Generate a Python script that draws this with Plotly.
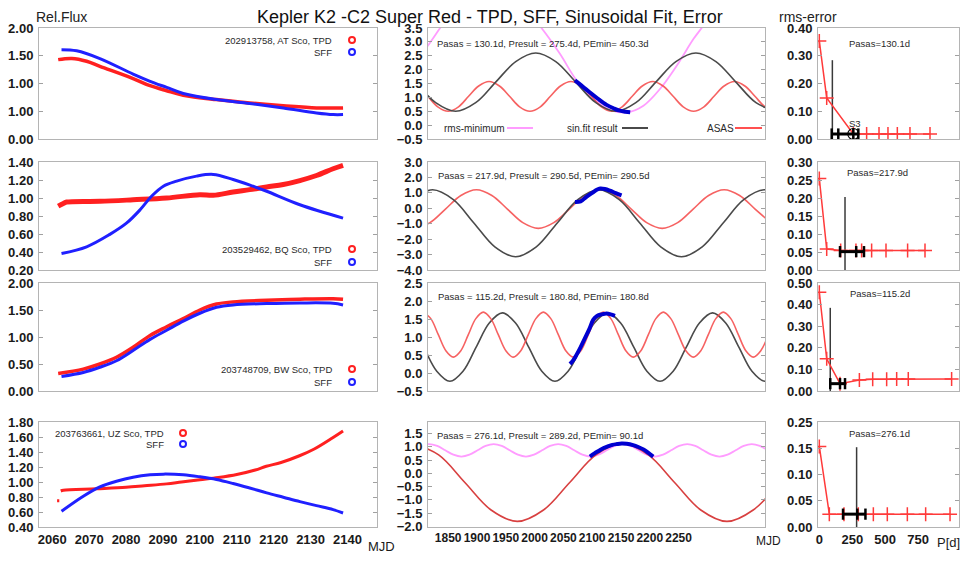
import plotly.graph_objects as go

# the page body adds an 8 px margin on every side; the figure is sized so the
# page does not overflow, and every reference pixel position is shifted by OFF
OFF = 8
W, H = 971 - 2 * OFF, 562 - 2 * OFF
FONT = "Liberation Sans, Arial, Helvetica, sans-serif"

# ---------------- left column: Rel.Flux vs MJD (TPD red, SFF blue) ----------------
AT_TPD_X = [2061.6, 2065.3, 2069.3, 2072.9, 2081.9, 2086.5, 2091.0, 2095.5, 2104.5, 2113.5, 2122.6, 2131.6, 2138.8]
AT_TPD_Y = [1.43, 1.45, 1.40, 1.31, 1.09, 0.96, 0.87, 0.79, 0.71, 0.65, 0.60, 0.56, 0.56]
AT_SFF_X = [2062.5, 2066.6, 2072.9, 2081.9, 2086.5, 2091.0, 2095.5, 2104.5, 2113.5, 2122.6, 2131.6, 2136.1, 2138.8]
AT_SFF_Y = [1.61, 1.59, 1.45, 1.17, 1.04, 0.93, 0.82, 0.71, 0.64, 0.56, 0.47, 0.44, 0.44]

BQ_TPD_X = [2061.6, 2063.0, 2063.9, 2072.9, 2081.9, 2091.0, 2100.0, 2103.6, 2109.0, 2113.5, 2118.1, 2122.6, 2127.1, 2131.6, 2136.1, 2138.8]
BQ_TPD_Y = [0.91, 0.94, 0.955, 0.963, 0.98, 1.0, 1.037, 1.03, 1.067, 1.093, 1.123, 1.15, 1.194, 1.25, 1.325, 1.363]
BQ_SFF_X = [2062.5, 2069.3, 2075.6, 2080.1, 2083.8, 2086.9, 2090.1, 2093.7, 2099.1, 2103.6, 2109.0, 2114.4, 2118.1, 2127.1, 2138.8]
BQ_SFF_Y = [0.383, 0.458, 0.596, 0.72, 0.869, 1.019, 1.131, 1.187, 1.243, 1.262, 1.206, 1.131, 1.075, 0.925, 0.776]

BW_TPD_X = [2061.6, 2068.4, 2072.9, 2077.4, 2081.9, 2086.5, 2091.0, 2095.5, 2100.0, 2104.5, 2109.0, 2118.1, 2127.1, 2136.1, 2138.8]
BW_TPD_Y = [0.325, 0.406, 0.5, 0.625, 0.81, 1.03, 1.19, 1.34, 1.5, 1.61, 1.65, 1.68, 1.70, 1.71, 1.70]
BW_SFF_X = [2062.5, 2068.4, 2072.9, 2077.4, 2081.9, 2086.5, 2091.0, 2095.5, 2100.0, 2104.5, 2109.0, 2118.1, 2127.1, 2136.1, 2138.8]
BW_SFF_Y = [0.27, 0.344, 0.44, 0.56, 0.75, 0.956, 1.125, 1.294, 1.44, 1.55, 1.594, 1.619, 1.631, 1.625, 1.594]

UZ_TPD_X = [2061.3, 2061.9, None, 2062.3, 2063.0, 2072.0, 2080.0, 2085.0, 2091.0, 2095.0, 2100.0, 2105.0, 2110.0,
            2115.0, 2118.0, 2122.0, 2127.0, 2131.0, 2136.0, 2138.8]
UZ_TPD_Y = [0.75, 0.75, None, 0.88, 0.89, 0.91, 0.93, 0.95, 0.975, 1.0, 1.03, 1.06, 1.10,
            1.16, 1.21, 1.26, 1.35, 1.44, 1.59, 1.68]
UZ_SFF_X = [2062.5, 2068.4, 2072.9, 2077.4, 2081.9, 2086.5, 2090.1, 2095.5, 2100.0, 2104.5, 2109.0, 2113.5,
            2118.1, 2122.6, 2127.1, 2131.6, 2136.1, 2138.8]
UZ_SFF_Y = [0.61, 0.81, 0.935, 1.01, 1.064, 1.096, 1.105, 1.096, 1.069, 1.033, 0.98, 0.92,
            0.855, 0.797, 0.739, 0.685, 0.632, 0.587]

# ---------------- middle column: sinusoidal fits vs MJD ----------------
AT_FIT_X = [1793.5, 1828.3, 1863.0, 1897.8, 1932.5, 1967.3, 2002.0, 2036.8, 2071.5, 2106.3, 2141.0, 2175.8, 2210.5,
            2245.3, 2280.0, 2314.8, 2349.5, 2384.3, 2419.0]
AT_FIT_Y = [1.55, 0.81, 0.50, 0.81, 1.55, 2.29, 2.60, 2.29, 1.55, 0.81, 0.50, 0.81, 1.55,
            2.29, 2.60, 2.29, 1.55, 0.81, 0.50]
AT_ASAS_X = [1779, 1797, 1814.5, 1832, 1850, 1868, 1885.5, 1903, 1921, 1939, 1956.5, 1974, 1992, 2010, 2027.5, 2045,
             2063, 2081, 2098.5, 2116, 2134, 2152, 2169.5, 2187, 2205, 2223, 2240.5, 2258, 2276, 2294, 2311.5, 2329,
             2347, 2365, 2382.5, 2400, 2418]
AT_ASAS_Y = [1.57, 1.41, 1.04, 0.66, 0.50, 0.66, 1.04, 1.41, 1.57, 1.41, 1.04, 0.66, 0.50, 0.66, 1.04, 1.41,
             1.57, 1.41, 1.04, 0.66, 0.50, 0.66, 1.04, 1.41, 1.57, 1.41, 1.04, 0.66, 0.50, 0.66, 1.04, 1.41,
             1.57, 1.41, 1.04, 0.66, 0.50]
AT_RMS_X = [1790, 1815, 1836, 1850, None, 2000, 2012, 2044, 2073, 2102, 2131, 2160, 2189, 2218, 2247, 2276, 2290, 2300]
AT_RMS_Y = [2.2, 2.87, 3.5, 3.9, None, 3.8, 3.5, 2.57, 1.61, 0.95, 0.55, 0.46, 0.7, 1.31, 2.15, 3.11, 3.5, 3.8]
AT_DATA_X = [2070, 2080, 2090, 2099, 2110, 2125, 2138, 2148, 2158, 2166]
AT_DATA_Y = [1.61, 1.45, 1.28, 1.13, 0.95, 0.73, 0.60, 0.52, 0.48, 0.46]

BQ_FIT_X = [1787, 1823, 1859, 1895, 1931, 1967, 2003, 2039, 2075, 2111, 2147, 2183, 2219, 2255, 2291, 2327, 2363, 2399, 2435]
BQ_FIT_Y = [0.56, 1.2, 0.56, -0.97, -2.5, -3.14, -2.5, -0.97, 0.56, 1.2, 0.56, -0.97, -2.5, -3.14, -2.5, -0.97, 0.56, 1.2, 0.56]
BQ_ASAS_X = [1791.5, 1818.4, 1845.3, 1872.1, 1899, 1925.9, 1952.8, 1979.6, 2006.5, 2033.4, 2060.3, 2087.1, 2114,
             2140.9, 2167.8, 2194.6, 2221.5, 2248.4, 2275.3, 2302.1, 2329, 2355.9, 2382.8, 2409.6]
BQ_ASAS_Y = [-1.3, -0.93, -0.05, 0.83, 1.2, 0.83, -0.05, -0.93, -1.3, -0.93, -0.05, 0.83, 1.2,
             0.83, -0.05, -0.93, -1.3, -0.93, -0.05, 0.83, 1.2, 0.83, -0.05, -0.93]
BQ_DATA_X = [2070, 2080, 2090, 2100, 2108, 2114, 2122, 2131, 2141, 2151]
BQ_DATA_Y = [0.41, 0.45, 0.74, 1.0, 1.2, 1.28, 1.25, 1.14, 0.98, 0.84]

BW_FIT_X = [1784.6, 1807.4, 1830.2, 1853, 1875.8, 1898.6, 1921.4, 1944.2, 1967, 1989.8, 2012.6, 2035.4, 2058.2,
            2081, 2103.8, 2126.6, 2149.4, 2172.2, 2195, 2217.8, 2240.6, 2263.4, 2286.2, 2309, 2331.8, 2354.6,
            2377.4, 2400.2, 2423]
BW_FIT_Y = [1.39, 0.72, 0.05, -0.23, 0.05, 0.72, 1.39, 1.67, 1.39, 0.72, 0.05, -0.23, 0.05,
            0.72, 1.39, 1.67, 1.39, 0.72, 0.05, -0.23, 0.05, 0.72, 1.39, 1.67, 1.39, 0.72,
            0.05, -0.23, 0.05]
BW_ASAS_X = [1806.9, 1819.9, 1832.9, 1846, 1859, 1872, 1885, 1898, 1911, 1924, 1937, 1950.1, 1963.1, 1976.1,
             1989.1, 2002.2, 2015.2, 2028.2, 2041.2, 2054.2, 2067.3, 2080.3, 2093.3, 2106.3, 2119.4, 2132.4,
             2145.4, 2158.4, 2171.4, 2184.5, 2197.5, 2210.5, 2223.5, 2236.5, 2249.6, 2262.6, 2275.6, 2288.6,
             2301.6, 2314.6, 2327.6, 2340.7, 2353.7, 2366.7, 2379.7, 2392.7, 2405.8]
BW_ASAS_Y = [1.69, 1.51, 1.065, 0.62, 0.44, 0.62, 1.065, 1.51, 1.69, 1.51, 1.065, 0.62, 0.44, 0.62,
             1.065, 1.51, 1.69, 1.51, 1.065, 0.62, 0.44, 0.62, 1.065, 1.51, 1.69, 1.51,
             1.065, 0.62, 0.44, 0.62, 1.065, 1.51, 1.69, 1.51, 1.065, 0.62, 0.44, 0.62,
             1.065, 1.51, 1.69, 1.51, 1.065, 0.62, 0.44, 0.62, 1.065]
BW_DATA_X = [2061.5, 2067, 2073, 2080, 2087.5, 2095, 2102, 2108, 2114, 2120, 2125, 2132, 2139.6]
BW_DATA_Y = [0.25, 0.35, 0.51, 0.72, 0.97, 1.22, 1.48, 1.58, 1.62, 1.64, 1.65, 1.63, 1.59]

UZ_ASAS_X = [1788, 1833.5, 1879, 1924.5, 1970, 2015.5, 2061, 2106.5, 2152, 2197.5, 2243, 2288.5, 2334, 2379.5, 2425]
UZ_ASAS_Y = [1.12, 0.69, -0.345, -1.38, -1.81, -1.38, -0.345, 0.69, 1.12, 0.69, -0.345, -1.38, -1.81, -1.38, -0.345]
UZ_RMS_X = [1803, 1817, 1831, 1845, 1859, 1873, 1887, 1901, 1915, 1929, 1943, 1957, 1971, 1985, 1999, 2013, 2027,
            2041, 2055, 2069, 2083, 2097, 2111, 2125, 2139, 2153, 2167, 2181, 2195, 2209, 2223, 2237, 2251, 2265,
            2279, 2293, 2307, 2321, 2335, 2349, 2363, 2377, 2391, 2405]
UZ_RMS_Y = [1.03, 1.1, 1.03, 0.865, 0.70, 0.63, 0.70, 0.865, 1.03, 1.1, 1.03, 0.865, 0.70, 0.63, 0.70, 0.865, 1.03,
            1.1, 1.03, 0.865, 0.70, 0.63, 0.70, 0.865, 1.03, 1.1, 1.03, 0.865, 0.70, 0.63, 0.70, 0.865, 1.03, 1.1,
            1.03, 0.865, 0.70, 0.63, 0.70, 0.865, 1.03, 1.1, 1.03, 0.865]
UZ_DATA_X = [2096, 2104, 2112, 2120, 2128, 2135, 2143, 2151, 2160, 2171, 2180, 2189, 2197, 2206]
UZ_DATA_Y = [0.63, 0.75, 0.85, 0.95, 1.02, 1.07, 1.10, 1.12, 1.11, 1.06, 0.99, 0.90, 0.78, 0.63]

# ---------------- right column: rms-error vs trial period P[d] ----------------
AT_ERR_P = [0, 56, 258, 359, 453, 521, 592, 688, 840]
AT_ERR = [0.353, 0.148, 0.018, 0.018, 0.018, 0.018, 0.018, 0.018, 0.018]
AT_BAR_P = [94, 144, 258, 296]
AT_BAR_Y = [0.018, 0.018, 0.018, 0.018]
AT_PASAS = [99, 99]
AT_PASAS_Y = [0, 0.284]
AT_BEST_P = [258]
AT_BEST_Y = [0.018]

BQ_ERR_P = [0, 56, 162, 278, 321, 397, 506, 670, 802]
BQ_ERR = [0.254, 0.058, 0.054, 0.054, 0.054, 0.054, 0.054, 0.054, 0.054]
BQ_BAR_P = [157, 280, 339]
BQ_BAR_Y = [0.051, 0.051, 0.051]
BQ_PASAS = [195, 195]
BQ_PASAS_Y = [0, 0.203]

BW_ERR_P = [0, 56, 157, 304, 405, 511, 587, 675, 1004]
BW_ERR = [0.457, 0.149, 0.034, 0.051, 0.054, 0.054, 0.055, 0.055, 0.055]
BW_BAR_P = [83, 157, 195]
BW_BAR_Y = [0.034, 0.034, 0.034]
BW_PASAS = [83, 83]
BW_PASAS_Y = [0, 0.385]

UZ_ERR_P = [0, 76, 187, 296, 410, 516, 668, 807, 992]
UZ_ERR = [0.1535, 0.0245, 0.0245, 0.0245, 0.0245, 0.0245, 0.0245, 0.0245, 0.0245]
UZ_BAR_P = [180, 288, 350]
UZ_BAR_Y = [0.0245, 0.0245, 0.0245]
UZ_PASAS = [283, 283]
UZ_PASAS_Y = [0, 0.152]

# ---------------- axes ----------------
FLUX_TICKS = [[0, 0.5, 1.0, 1.5, 2.0], [0.2, 0.4, 0.6, 0.8, 1.0, 1.2, 1.4], [0, 0.5, 1.0, 1.5, 2.0],
              [0.4, 0.6, 0.8, 1.0, 1.2, 1.4, 1.6, 1.8]]
FLUX_TEXT_AT = ["0.00", "1.00", "1.00", "1.50", "2.00"]
FIT_TICKS = [[-0.5, 0, 0.5, 1, 1.5, 2, 2.5, 3, 3.5], [-4, -3, -2, -1, 0, 1, 2, 3], [-0.5, 0, 0.5, 1, 1.5, 2, 2.5],
             [-2, -1.5, -1, -0.5, 0, 0.5, 1, 1.5]]
ERR_TICKS = [[0, 0.1, 0.2, 0.3, 0.4], [0, 0.05, 0.1, 0.15, 0.2, 0.25, 0.3], [0, 0.1, 0.2, 0.3, 0.4, 0.5],
             [0, 0.05, 0.1, 0.15, 0.2]]
ERR_TEXT_UZ = ["0.00", "0.05", "0.10", "0.15", "0.25"]
MJD_TICKS = [2060, 2070, 2080, 2090, 2100, 2110, 2120, 2130, 2140]
FIT_MJD_TICKS = [1850, 1900, 1950, 2000, 2050, 2100, 2150, 2200, 2250]
P_TICKS = [0, 250, 500, 750]

COL_PX = [(39, 377), (428, 765), (818, 959)]
ROW_PX = [(28, 139), (162, 270), (283, 391), (422, 527)]
X_RANGES = [[2056.4, 2148.0], [1815.0, 2400.0], [-10.0, 1060.0]]
Y_RANGES = [
    [[0, 2], [-0.5, 3.5], [0, 0.4]],
    [[0.2, 1.4], [-4, 3], [0, 0.3]],
    [[0, 2], [-0.5, 2.5], [0, 0.5]],
    [[0.4, 1.8], [-2.02, 1.93], [0, 0.2]],
]

RED = "#ff2020"
BLUE = "#2020ff"
ASAS_RED = "rgba(245,70,70,0.85)"
FIT_GRAY = "#4a4a4a"
PINK = "#ff9cff"


def px(x):
    return (x - OFF) / W


def py(y):
    return 1 - (y - OFF) / H


def ax(letter, i):
    return letter if i == 1 else f"{letter}{i}"


def line(fig, i, x, y, color, width, shape="spline"):
    fig.add_trace(go.Scatter(x=x, y=y, mode="lines", line={"color": color, "width": width, "shape": shape},
                             xaxis=ax("x", i), yaxis=ax("y", i), showlegend=False, hoverinfo="skip"))


def err_panel(fig, i, p, e, bar_p, bar_y, pas_p, pas_y):
    fig.add_trace(go.Scatter(x=pas_p, y=pas_y, mode="lines", line={"color": "#3a3a3a", "width": 1.5},
                             xaxis=ax("x", i), yaxis=ax("y", i), showlegend=False, hoverinfo="skip"))
    fig.add_trace(go.Scatter(x=p, y=e, mode="lines+markers", line={"color": "#ff3a3a", "width": 1.5},
                             marker={"symbol": "cross-thin", "size": 10, "line": {"color": "#ff3a3a", "width": 1.5}},
                             xaxis=ax("x", i), yaxis=ax("y", i), showlegend=False, hoverinfo="skip"))
    fig.add_trace(go.Scatter(x=bar_p, y=bar_y, mode="lines+markers", line={"color": "black", "width": 3},
                             marker={"symbol": "line-ns", "size": 8, "line": {"color": "black", "width": 2.5}},
                             xaxis=ax("x", i), yaxis=ax("y", i), showlegend=False, hoverinfo="skip"))


fig = go.Figure()

# left column
line(fig, 1, AT_TPD_X, AT_TPD_Y, RED, 3.5)
line(fig, 1, AT_SFF_X, AT_SFF_Y, BLUE, 3)
line(fig, 4, BQ_TPD_X, BQ_TPD_Y, RED, 5)
line(fig, 4, BQ_SFF_X, BQ_SFF_Y, BLUE, 3)
line(fig, 7, BW_TPD_X, BW_TPD_Y, RED, 3.5)
line(fig, 7, BW_SFF_X, BW_SFF_Y, BLUE, 3)
line(fig, 10, UZ_TPD_X, UZ_TPD_Y, RED, 3)
line(fig, 10, UZ_SFF_X, UZ_SFF_Y, BLUE, 3)

# middle column
line(fig, 2, AT_RMS_X, AT_RMS_Y, PINK, 1.8)
line(fig, 2, AT_ASAS_X, AT_ASAS_Y, ASAS_RED, 1.6)
line(fig, 2, AT_FIT_X, AT_FIT_Y, FIT_GRAY, 1.6)
line(fig, 2, AT_DATA_X, AT_DATA_Y, "#0000d0", 4)
line(fig, 5, BQ_ASAS_X, BQ_ASAS_Y, ASAS_RED, 1.6)
line(fig, 5, BQ_FIT_X, BQ_FIT_Y, FIT_GRAY, 1.6)
line(fig, 5, BQ_DATA_X, BQ_DATA_Y, "#0000d0", 4)
line(fig, 8, BW_FIT_X, BW_FIT_Y, FIT_GRAY, 1.6)
line(fig, 8, BW_ASAS_X, BW_ASAS_Y, ASAS_RED, 1.6)
line(fig, 8, BW_DATA_X, BW_DATA_Y, "#0000d0", 4)
line(fig, 11, UZ_RMS_X, UZ_RMS_Y, PINK, 1.8)
line(fig, 11, UZ_ASAS_X, UZ_ASAS_Y, "#d84040", 1.6)
line(fig, 11, UZ_DATA_X, UZ_DATA_Y, "#0000d0", 4)

# right column
err_panel(fig, 3, AT_ERR_P, AT_ERR, AT_BAR_P, AT_BAR_Y, AT_PASAS, AT_PASAS_Y)
fig.add_trace(go.Scatter(x=AT_BEST_P, y=AT_BEST_Y, mode="markers",
                         marker={"symbol": "circle-open-dot", "size": 11, "color": "black", "line": {"width": 1.2}},
                         xaxis="x3", yaxis="y3", showlegend=False, hoverinfo="skip"))
err_panel(fig, 6, BQ_ERR_P, BQ_ERR, BQ_BAR_P, BQ_BAR_Y, BQ_PASAS, BQ_PASAS_Y)
err_panel(fig, 9, BW_ERR_P, BW_ERR, BW_BAR_P, BW_BAR_Y, BW_PASAS, BW_PASAS_Y)
err_panel(fig, 12, UZ_ERR_P, UZ_ERR, UZ_BAR_P, UZ_BAR_Y, UZ_PASAS, UZ_PASAS_Y)

y_ticks = [FLUX_TICKS, FIT_TICKS, ERR_TICKS]
y_formats = [".2f", ".1f", ".2f"]
x_ticks = [MJD_TICKS, FIT_MJD_TICKS, P_TICKS]
x_font_size = [13, 12, 13]

layout_axes = {}
for r in range(4):
    for c in range(3):
        i = r * 3 + c + 1
        xa = {
            "domain": [px(COL_PX[c][0]), px(COL_PX[c][1])],
            "range": X_RANGES[c],
            "anchor": ax("y", i),
            "automargin": False,
            "showline": True, "mirror": True, "linecolor": "#b4b4b4", "linewidth": 1,
            "showgrid": False, "zeroline": False, "ticks": "", "tickangle": 0,
            "tickfont": {"family": FONT, "size": x_font_size[c], "color": "#1a1a1a", "weight": "bold"},
        }
        if r == 3:
            xa["tickvals"] = x_ticks[c]
        else:
            xa["showticklabels"] = False
        ya = {
            "domain": [py(ROW_PX[r][1]), py(ROW_PX[r][0])],
            "range": Y_RANGES[r][c],
            "anchor": ax("x", i),
            "automargin": False,
            "showline": True, "mirror": "ticks", "linecolor": "#b4b4b4", "linewidth": 1,
            "showgrid": False, "zeroline": False, "ticks": "inside", "ticklen": 4, "tickcolor": "#a0a0a0",
            "tickvals": y_ticks[c][r], "tickformat": y_formats[c],
            "tickfont": {"family": FONT, "size": 13, "color": "#1a1a1a", "weight": "bold"},
            "ticklabelstandoff": 2,
        }
        layout_axes[ax("xaxis", i)] = xa
        layout_axes[ax("yaxis", i)] = ya

layout_axes["yaxis"]["ticktext"] = FLUX_TEXT_AT
layout_axes["yaxis12"]["ticktext"] = ERR_TEXT_UZ


def note(text, x, y, size=9.5, anchor="left", color="#2a2a2a"):
    return {"text": text, "x": px(x), "y": py(y), "xref": "paper", "yref": "paper", "showarrow": False,
            "xanchor": anchor, "yanchor": "middle", "font": {"family": FONT, "size": size, "color": color}}


annotations = [
    note("Kepler K2 -C2 Super Red - TPD, SFF, Sinusoidal Fit, Error", 490, 17, 18, "center", "#111"),
    note("Rel.Flux", 61, 17, 14, "center", "#222"),
    note("rms-error", 808, 17, 14, "center", "#222"),
    note("MJD", 381, 546, 13, "center", "#1a1a1a"),
    note("MJD", 768, 541, 12, "center", "#1a1a1a"),
    note("P[d]", 962, 542, 13, "right", "#1a1a1a"),
    # left column legends
    note("202913758, AT Sco, TPD", 334, 40, anchor="right"),
    note("SFF", 334, 52, anchor="right"),
    note("203529462, BQ Sco, TPD", 334, 249, anchor="right"),
    note("SFF", 334, 262, anchor="right"),
    note("203748709, BW Sco, TPD", 334, 369, anchor="right"),
    note("SFF", 334, 382, anchor="right"),
    note("203763661, UZ Sco, TPD", 166, 433, anchor="right"),
    note("SFF", 166, 444, anchor="right"),
    # middle column
    note("Pasas = 130.1d, Presult = 275.4d, PEmin= 450.3d", 435, 43),
    note("Pasas = 217.9d, Presult = 290.5d, PEmin= 290.5d", 436, 175),
    note("Pasas = 115.2d, Presult = 180.8d, PEmin= 180.8d", 436, 296),
    note("Pasas = 276.1d, Presult = 289.2d, PEmin= 90.1d", 435, 435),
    note("rms-minimum", 442, 128, 10),
    note("sin.fit result", 565, 128, 10),
    note("ASAS", 705, 128, 10),
    # right column
    note("Pasas=130.1d", 879, 44, 9.5, "center"),
    note("Pasas=217.9d", 877, 172, 9.5, "center"),
    note("Pasas=115.2d", 880, 293, 9.5, "center"),
    note("Pasas=276.1d", 879, 433, 9.5, "center"),
    note("S3", 855, 123, 9.5, "center"),
]


def dot(cx, cy, color):
    return {"type": "circle", "xref": "paper", "yref": "paper",
            "x0": px(cx - 3), "x1": px(cx + 3), "y0": py(cy + 3), "y1": py(cy - 3),
            "line": {"color": color, "width": 2}, "fillcolor": "rgba(255,255,255,0.6)"}


def sample(x0, x1, y, color):
    return {"type": "line", "xref": "paper", "yref": "paper", "x0": px(x0), "x1": px(x1), "y0": py(y), "y1": py(y),
            "line": {"color": color, "width": 2}}


shapes = [
    dot(352, 40, RED), dot(352, 52, BLUE),
    dot(352, 249, RED), dot(352, 262, BLUE),
    dot(352, 369, RED), dot(352, 382, BLUE),
    dot(183, 433, RED), dot(183, 444, BLUE),
    sample(507, 533, 128, PINK), sample(622, 648, 128, FIT_GRAY), sample(735, 762, 128, "#ff5050"),
]

fig.update_layout(
    width=W, height=H, autosize=False,
    margin={"l": 0, "r": 0, "t": 0, "b": 0, "autoexpand": False},
    paper_bgcolor="white", plot_bgcolor="white",
    font={"family": FONT},
    showlegend=False,
    annotations=annotations, shapes=shapes,
    **layout_axes,
)

fig.write_html("out.html")
